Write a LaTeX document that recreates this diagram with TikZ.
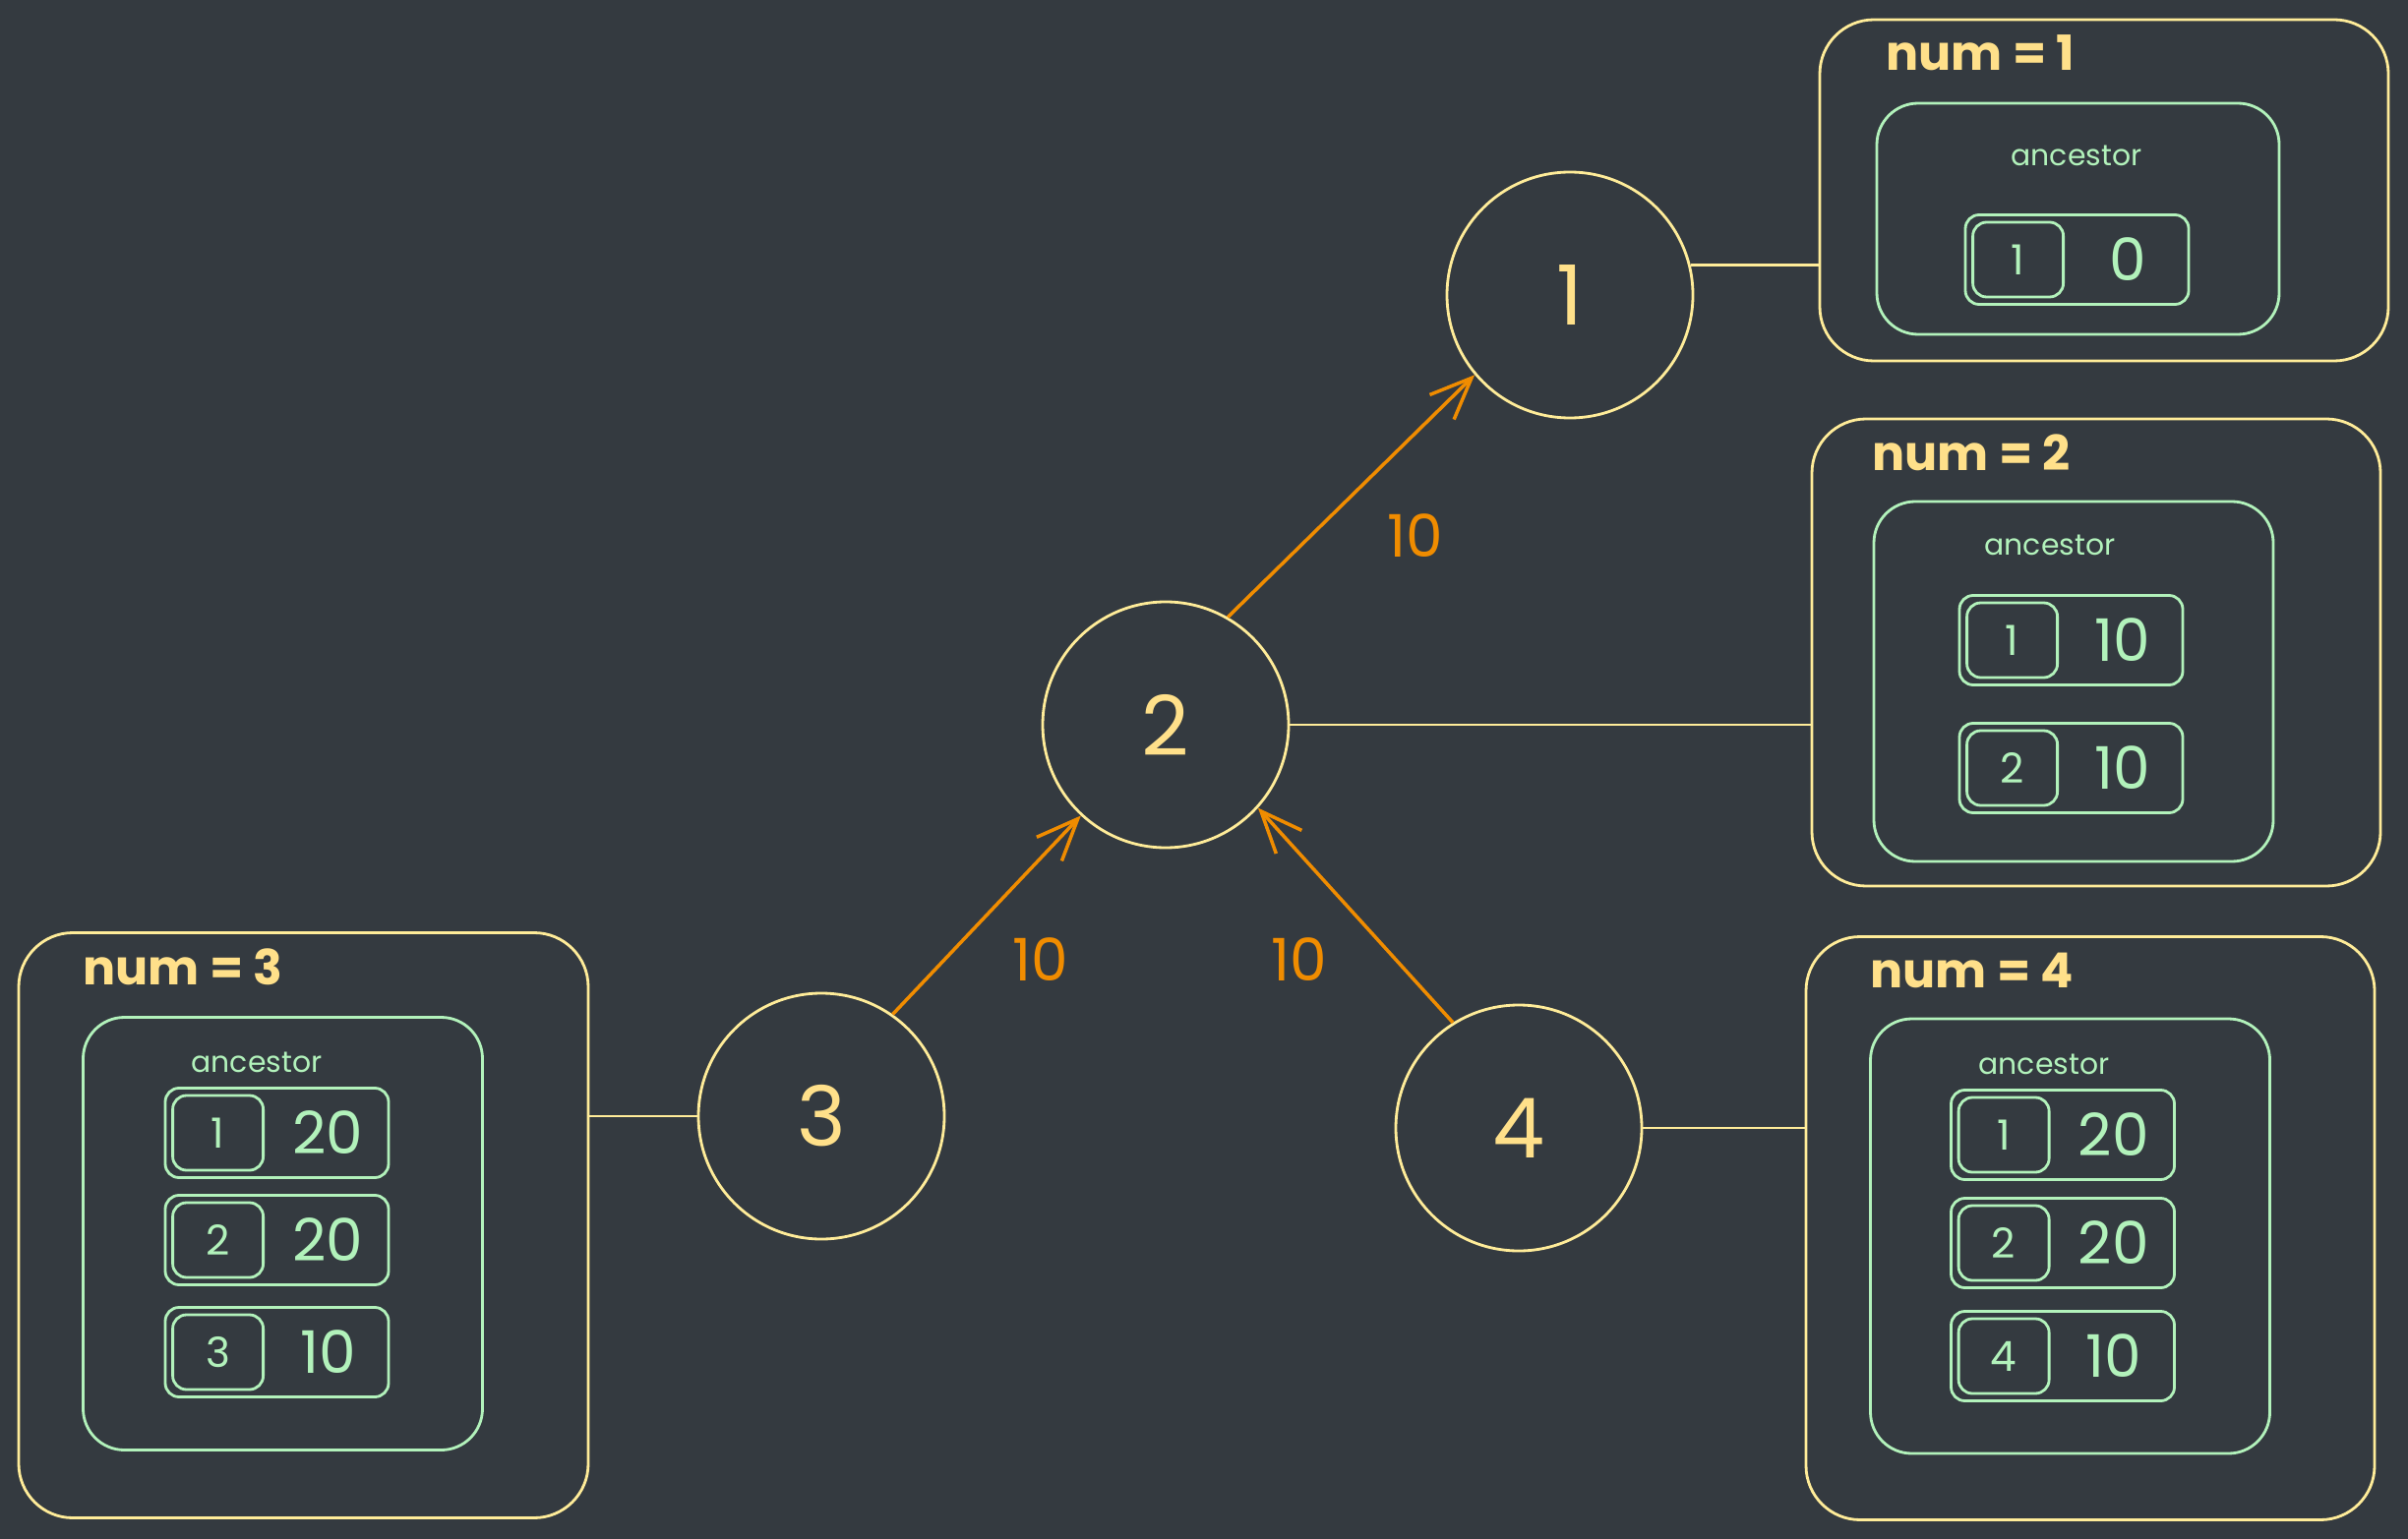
\documentclass[tikz,border=0pt]{standalone}
\usepackage{fontspec}
\setmainfont{Poppins}
\usetikzlibrary{positioning,arrows.meta}
\definecolor{bg}{HTML}{343A40}
\definecolor{pale}{HTML}{FFEC99}
\definecolor{gold}{HTML}{FFE08A}
\definecolor{mint}{HTML}{B2F2BB}
\definecolor{amber}{HTML}{F08C00}

\begin{document}
\begin{tikzpicture}[>={Straight Barb[length=12pt,width=10pt]},line width=0.8pt,
  vertex/.style={circle,draw=pale,minimum size=2.5cm,text=gold,font=\fontsize{24}{28}\selectfont},
  outer/.style={draw=pale,rounded corners=0.55cm},
  inner/.style={draw=mint,rounded corners=0.42cm},
  rowbox/.style={draw=mint,rounded corners=0.14cm,minimum width=2.27cm,minimum height=0.91cm},
  keybox/.style={draw=mint,rounded corners=0.14cm,minimum width=0.92cm,minimum height=0.76cm,
    text=mint,font=\fontsize{12}{14}\selectfont},
  val/.style={text=mint,font=\fontsize{17}{20}\selectfont},
  anc/.style={text=mint,font=\fontsize{8.5}{10}\selectfont},
  numlabel/.style={anchor=base west,inner sep=0pt,text=gold,font=\bfseries\fontsize{14}{17}\selectfont},
  weight/.style={text=amber,font=\fontsize{17}{20}\selectfont},
  flow/.style={draw=amber,line width=1pt,->},
  tie/.style={draw=pale}]

  \fill[bg] (0,0) rectangle (24.48,-15.65);

  % Graph
  \node[vertex] (n1) at (15.96,-3.00) {1};
  \node[vertex] (n2) at (11.85,-7.37) {2};
  \node[vertex] (n3) at (8.35,-11.35) {3};
  \node[vertex] (n4) at (15.44,-11.47) {4};

  \draw[flow] (n2.60) -- (n1.220);
  \draw[flow] (n3.55) -- (n2.227);
  \draw[flow] (n4.122) -- (n2.318);
  \node[weight] (w1) at (14.39,-5.45) {10};
  \node[weight] (w2) at (10.58,-9.76) {10};
  \node[weight] (w3) at (13.21,-9.76) {10};

  % num = 1
  \node[outer,minimum width=5.78cm,minimum height=3.47cm] (b1) at (21.39,-1.935) {};
  \node[inner,minimum width=4.09cm,minimum height=2.35cm] (i1) at (21.125,-2.225) {};
  \node[numlabel] (l1) at (19.16,-0.72) {num = 1};
  \node[anc] (a1) at (21.11,-1.58) {ancestor};
  \foreach \k/\v/\y [count=\i] in {1/0/-2.64} {
    \node[rowbox] (r1\i) at (21.115,\y) {};
    \node[keybox] (k1\i) at ([xshift=0.55cm]r1\i.west) {\k};
    \node[val] (v1\i) at ([xshift=-0.63cm]r1\i.east) {\v};
  }

  % num = 2
  \node[outer,minimum width=5.78cm,minimum height=4.75cm] (b2) at (21.31,-6.635) {};
  \node[inner,minimum width=4.06cm,minimum height=3.66cm] (i2) at (21.08,-6.93) {};
  \node[numlabel] (l2) at (19.02,-4.79) {num = 2};
  \node[anc] (a2) at (20.84,-5.54) {ancestor};
  \foreach \k/\v/\y [count=\i] in {1/10/-6.51, 2/10/-7.81} {
    \node[rowbox] (r2\i) at (21.055,\y) {};
    \node[keybox] (k2\i) at ([xshift=0.55cm]r2\i.west) {\k};
    \node[val] (v2\i) at ([xshift=-0.63cm]r2\i.east) {\v};
  }

  % num = 3
  \node[outer,minimum width=5.79cm,minimum height=5.95cm] (b3) at (3.085,-12.46) {};
  \node[inner,minimum width=4.06cm,minimum height=4.40cm] (i3) at (2.875,-12.545) {};
  \node[numlabel] (l3) at (0.83,-10.01) {num = 3};
  \node[anc] (a3) at (2.61,-10.80) {ancestor};
  \foreach \k/\v/\y [count=\i] in {1/20/-11.52, 2/20/-12.61, 3/10/-13.75} {
    \node[rowbox] (r3\i) at (2.815,\y) {};
    \node[keybox] (k3\i) at ([xshift=0.55cm]r3\i.west) {\k};
    \node[val] (v3\i) at ([xshift=-0.63cm]r3\i.east) {\v};
  }

  % num = 4
  \node[outer,minimum width=5.78cm,minimum height=5.93cm] (b4) at (21.25,-12.49) {};
  \node[inner,minimum width=4.06cm,minimum height=4.42cm] (i4) at (21.045,-12.57) {};
  \node[numlabel] (l4) at (19.00,-10.04) {num = 4};
  \node[anc] (a4) at (20.78,-10.82) {ancestor};
  \foreach \k/\v/\y [count=\i] in {1/20/-11.54, 2/20/-12.64, 4/10/-13.79} {
    \node[rowbox] (r4\i) at (20.97,\y) {};
    \node[keybox] (k4\i) at ([xshift=0.55cm]r4\i.west) {\k};
    \node[val] (v4\i) at ([xshift=-0.63cm]r4\i.east) {\v};
  }

  % links to the tables
  \draw[tie] (n1.14) -- (n1.14 -| b1.west);
  \draw[tie] (n2.east) -- (n2.east -| b2.west);
  \draw[tie] (n3.west) -- (n3.west -| b3.east);
  \draw[tie] (n4.east) -- (n4.east -| b4.west);
\end{tikzpicture}
\end{document}
